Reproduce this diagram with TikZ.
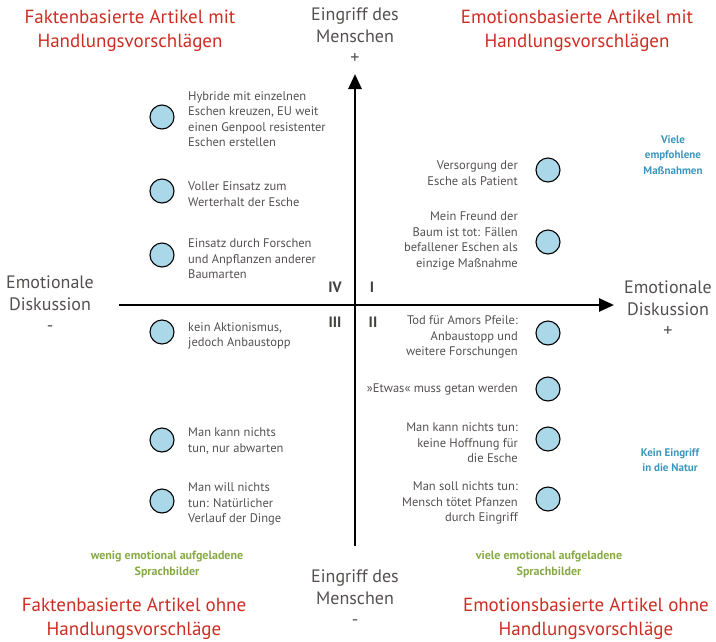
\documentclass[tikz,border=0pt]{standalone}
\usepackage{fontspec}
\setmainfont{PT Sans}
\usetikzlibrary{arrows.meta}
\definecolor{headred}{RGB}{205,45,35}
\definecolor{txtgray}{RGB}{85,80,80}
\definecolor{lblgreen}{RGB}{135,170,70}
\definecolor{lblblue}{RGB}{60,150,190}
\definecolor{dotblue}{RGB}{170,216,232}
\begin{document}
\begin{tikzpicture}[x=1pt,y=-1pt,
  heading/.style={text=headred, font=\fontsize{19}{24}\selectfont, align=center},
  axislabel/.style={text=txtgray, font=\fontsize{18}{21.5}\selectfont, align=center},
  dot/.style={circle, draw=black, fill=dotblue, line width=1.1pt, minimum size=24pt, inner sep=0pt},
  itemL/.style={text=txtgray, font=\fontsize{12.5}{15.5}\selectfont, align=left, anchor=west, inner sep=0pt},
  itemR/.style={text=txtgray, font=\fontsize{12.5}{15.5}\selectfont, align=right, anchor=east, inner sep=0pt},
  quadrant/.style={text=txtgray!80!black, font=\bfseries\fontsize{15}{16}\selectfont},
  bluenote/.style={text=lblblue, font=\bfseries\fontsize{11}{15.5}\selectfont, align=center},
  greennote/.style={text=lblgreen, font=\bfseries\fontsize{12}{16}\selectfont, align=center},
  axis/.style={line width=2.6pt, -{Triangle[length=15pt,width=13pt]}}
]
\useasboundingbox (0,0) rectangle (716,641);

% axes
\coordinate (xstart) at (119,305);
\coordinate (xend) at (614,305);
\coordinate (ystart) at (355,546);
\coordinate (yend) at (355,74);
\draw[axis] (xstart) -- (xend);
\draw[axis] (ystart) -- (yend);

% corner headings
\node[heading] (hTL) at (130,31) {Faktenbasierte Artikel mit\\Handlungsvorschlägen};
\node[heading] (hTR) at (577,31) {Emotionsbasierte Artikel mit\\Handlungsvorschlägen};
\node[heading] (hBL) at (134,619) {Faktenbasierte Artikel ohne\\Handlungsvorschläge};
\node[heading] (hBR) at (586,619) {Emotionsbasierte Artikel ohne\\Handlungsvorschläge};

% axis labels
\node[axislabel] (lTop) at (355,36) {Eingriff des\\Menschen\\+};
\node[axislabel] (lBot) at (355,598) {Eingriff des\\Menschen\\-};
\node[axislabel] (lLeft) at (50,304) {Emotionale\\Diskussion\\-};
\node[axislabel] (lRight) at (668,309) {Emotionale\\Diskussion\\+};

% quadrant numbers
\node[quadrant] (qIV) at (335,287) {IV};
\node[quadrant] (qI) at (372,287) {I};
\node[quadrant] (qIII) at (335,322) {III};
\node[quadrant] (qII) at (373,322) {II};

% side notes
\node[bluenote] (nViele) at (673,155) {Viele\\empfohlene\\Maßnahmen};
\node[bluenote] (nKein) at (670,460) {Kein Eingriff\\in die Natur};
\node[greennote] (nWenig) at (167,564) {wenig emotional aufgeladene\\Sprachbilder};
\node[greennote] (nVielE) at (549,564) {viele emotional aufgeladene\\Sprachbilder};

% left column
\node[dot] (d1) at (162,117) {};
\node[itemL] (t1) at (188,119) {Hybride mit einzelnen\\Eschen kreuzen, EU weit\\einen Genpool resistenter\\Eschen erstellen};
\node[dot] (d2) at (162,191) {};
\node[itemL] (t2) at (188,194) {Voller Einsatz zum\\Werterhalt der Esche};
\node[dot] (d3) at (162,255) {};
\node[itemL] (t3) at (188,259) {Einsatz durch Forschen\\und Anpflanzen anderer\\Baumarten};
\node[dot] (d4) at (162,332) {};
\node[itemL] (t4) at (188,336) {kein Aktionismus,\\jedoch Anbaustopp};
\node[dot] (d5) at (162,440) {};
\node[itemL] (t5) at (188,441) {Man kann nichts\\tun, nur abwarten};
\node[dot] (d6) at (162,501) {};
\node[itemL] (t6) at (188,504) {Man will nichts\\tun: Natürlicher\\Verlauf der Dinge};

% right column
\node[dot] (e1) at (548,170) {};
\node[itemR] (u1) at (518,173) {Versorgung der\\Esche als Patient};
\node[dot] (e2) at (548,242) {};
\node[itemR] (u2) at (518,241) {Mein Freund der\\Baum ist tot: Fällen\\befallener Eschen als\\einzige Maßnahme};
\node[dot] (e3) at (548,333) {};
\node[itemR] (u3) at (518,337) {Tod für Amors Pfeile:\\Anbaustopp und\\weitere Forschungen};
\node[dot] (e4) at (548,389) {};
\node[itemR] (u4) at (518,389) {»Etwas« muss getan werden};
\node[dot] (e5) at (548,439) {};
\node[itemR] (u5) at (518,443) {Man kann nichts tun:\\keine Hoffnung für\\die Esche};
\node[dot] (e6) at (548,499) {};
\node[itemR] (u6) at (518,503) {Man soll nichts tun:\\Mensch tötet Pfanzen\\durch Eingriff};
\end{tikzpicture}
\end{document}
